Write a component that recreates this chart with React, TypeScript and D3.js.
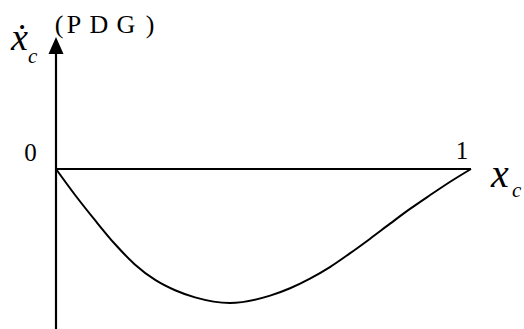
import React from "react";
import * as d3 from "d3";

// Phase curve of the cooperator share x_c under the PDG
const xcValues = [0, 0.046, 0.094, 0.142, 0.19, 0.239, 0.287, 0.335, 0.419, 0.516, 0.564, 0.612, 0.66, 0.708, 0.757, 0.805, 0.853, 0.901, 0.949, 1];
const xdotValues = [0, -0.194, -0.382, -0.56, -0.712, -0.828, -0.905, -0.958, -1.0, -0.945, -0.89, -0.818, -0.732, -0.63, -0.52, -0.408, -0.298, -0.196, -0.097, 0];
const tickLabels = ["0", "1"];
const gameLabel = ["(", "P", "D", "G", ")"];

const W = 524;
const H = 329;

export default function App() {
  const x = d3.scaleLinear().domain([0, 1]).range([56, 471]);
  const y = d3.scaleLinear().domain([-1, 0]).range([303, 169]);

  const pts: [number, number][] = xcValues.map((v, i) => [v, xdotValues[i]]);
  const line = d3
    .line<[number, number]>()
    .x((d) => x(d[0]))
    .y((d) => y(d[1]))
    .curve(d3.curveMonotoneX);

  const ax = x(0);
  const top = 37;
  const serif = "Liberation Serif";
  const labelX = [59, 74, 99, 126, 150];

  return (
    <svg
      width={W}
      height={H}
      style={{ position: "absolute", left: 0, top: 0, background: "#fff" }}
    >
      {/* vertical axis with arrowhead */}
      <line x1={ax} x2={ax} y1={H} y2={top + 12} stroke="#000" strokeWidth={2.2} />
      <path d={`M${ax},${top} L${ax - 7.5},${top + 17} L${ax + 7.5},${top + 17} Z`} fill="#000" />
      {/* zero line */}
      <line x1={ax} x2={x(1)} y1={y(0)} y2={y(0)} stroke="#000" strokeWidth={2} />
      {/* curve */}
      <path d={line(pts) ?? ""} fill="none" stroke="#000" strokeWidth={2} />

      {/* tick labels */}
      <text x={30.5} y={161} fontFamily={serif} fontSize={25} textAnchor="middle">
        {tickLabels[0]}
      </text>
      <text x={462} y={159} fontFamily={serif} fontSize={25} textAnchor="middle">
        {tickLabels[1]}
      </text>

      {/* game label, wide-set characters */}
      {gameLabel.map((ch, i) => (
        <text key={i} x={labelX[i]} y={33} fontFamily={serif} fontSize={26} textAnchor="middle">
          {ch}
        </text>
      ))}

      {/* y-axis label: x-dot sub c */}
      <text x={11} y={50} fontFamily={serif} fontSize={38} fontStyle="italic">
        ẋ
      </text>
      <text x={28} y={63} fontFamily={serif} fontSize={21} fontStyle="italic">
        c
      </text>

      {/* x-axis label */}
      <text x={491} y={187} fontFamily={serif} fontSize={40} fontStyle="italic">
        x
      </text>
      <text x={512} y={197} fontFamily={serif} fontSize={21} fontStyle="italic">
        c
      </text>
    </svg>
  );
}
